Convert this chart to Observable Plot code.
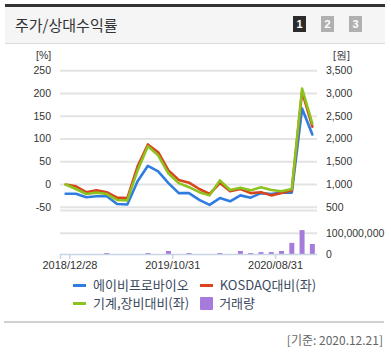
<!DOCTYPE html>
<html><head><meta charset="utf-8">
<script src="https://cdn.jsdelivr.net/npm/d3@7"></script>
<script src="https://cdn.jsdelivr.net/npm/@observablehq/plot@0.6"></script>
<style>
body{margin:0;background:#fff;font-family:"Noto Sans CJK KR","Noto Sans",sans-serif;}
#wrap{position:relative;width:391px;height:353px;overflow:hidden;background:#fff;}
#topbar{position:absolute;left:5px;top:4px;width:380px;height:2.5px;background:#333;}
#header{position:absolute;left:5px;top:6.5px;width:380px;height:36px;background:#f5f5f5;border-bottom:1px solid #dcdcdc;}
#title{position:absolute;left:10px;top:7px;font-size:15px;color:#333;line-height:22px;}
.btn{position:absolute;top:9px;width:13px;height:16px;font:bold 11px "Liberation Sans",sans-serif;line-height:16px;text-align:center;color:#fff;background:#b0b0b0;}
.btn.on{background:#2b2b2b;}
.unit{position:absolute;top:49px;font:10.5px "Liberation Sans",sans-serif;color:#333;}
#price,#vol{position:absolute;left:0;}
#price{top:50px;}
#vol{top:200px;}
#legend{position:absolute;left:73px;top:276px;font-size:13px;color:#3b4a5e;line-height:18px;}
.row{display:flex;align-items:center;height:18px;}
.item{display:flex;align-items:center;margin-right:11px;}
.dash{width:13px;height:3px;margin-right:7px;}
.sq{width:13px;height:13px;margin-right:6px;border-radius:1px;}
#footline{position:absolute;left:4px;top:321px;width:380px;height:2px;background:#d0d0d0;}
#basis{position:absolute;right:8px;top:331px;font-size:12px;color:#666;}
svg text{font-family:"Liberation Sans",sans-serif;}
</style></head><body>
<div id="wrap">
  <div id="topbar"></div>
  <div id="header">
    <div id="title">주가/상대수익률</div>
    <div class="btn on" style="left:288px">1</div>
    <div class="btn" style="left:316px">2</div>
    <div class="btn" style="left:344px">3</div>
  </div>
  <div class="unit" style="left:36px">[%]</div>
  <div class="unit" style="left:333px">[원]</div>
  <div id="price"></div>
  <div id="vol"></div>
  <div id="legend"></div>
  <div id="footline"></div>
  <div id="basis">[기준: 2020.12.21]</div>
</div>
<script>
const months = ["2018/12","2019/01","2019/02","2019/03","2019/04","2019/05","2019/06","2019/07","2019/08","2019/09","2019/10","2019/11","2019/12","2020/01","2020/02","2020/03","2020/04","2020/05","2020/06","2020/07","2020/08","2020/09","2020/10","2020/11","2020/12"];
const stockPrice = [795,795,720,740,740,570,560,1070,1410,1290,1030,810,810,660,550,700,630,760,710,810,790,820,820,2670,2100];
const kosdaqRel = [0,-4,-17,-13,-17,-29,-30,40,88,71,31,10,4,-10,-21,3,-15,-10,-19,-17,-24,-19,-13,204,127];
const machineRel = [0,-10,-21,-18,-21,-34,-35,31,84,64,24,3,-6,-17,-24,9,-12,-7,-13,-6,-12,-15,-10,211,134];
const volume = [0,0,0,0,4.7e6,0,0,0,4.7e6,0,14e6,0,4.7e6,0,0,4.7e6,0,14e6,4.7e6,9e6,9e6,14e6,52e6,112e6,47e6];

const pctTicks = [-50,0,50,100,150,200,250];
const pctTickLabels = ["-50","0","50","100","150","200","250"];
const wonTickLabels = ["500","1,000","1,500","2,000","2,500","3,000","3,500"];
const volTicks = [0,100e6];
const volTickLabels = ["0","100,000,000"];
const xTickMonths = ["2018/12","2019/10","2020/08"];
const xTickLabels = ["2018/12/28","2019/10/31","2020/08/31"];

const seriesNames = ["에이비프로바이오","KOSDAQ대비(좌)","기계,장비대비(좌)","거래량"];
const colors = {stock:"#2f7de1", kosdaq:"#d8441c", machine:"#8cc31f", vol:"#a67bdc"};

// price won <-> percent (right axis 500..3500 aligned with left -50..250)
const wonToPct = w => (w - 1000) / 10;

const rows = months.map((m,i)=>({i, m, price: stockPrice[i], kos: kosdaqRel[i], mac: machineRel[i], vol: volume[i]}));
const xIdx = m => months.indexOf(m);
const xTickIdx = xTickMonths.map(xIdx);

const W = 391, ML = 60, MR = 74;
const xScale = {type:"linear", domain:[-0.5, months.length-0.5], axis:null};

const price = Plot.plot({
  width: W, height: 162, marginLeft: ML, marginRight: MR, marginTop: 20.3, marginBottom: 5.3,
  x: xScale,
  y: {domain:[-50,250], axis:null},
  marks: [
    Plot.ruleY(pctTicks, {stroke:"#e3e3e3", strokeWidth:2}),
    Plot.axisY({anchor:"left", label:null, ticks:pctTicks, tickSize:0, tickPadding:9.5, fontSize:10.5, fill:"#333", tickFormat:(d)=>pctTickLabels[pctTicks.indexOf(d)]}),
    Plot.axisY({anchor:"right", label:null, ticks:pctTicks, tickSize:0, tickPadding:8.5, fontSize:10.5, fill:"#333", tickFormat:(d)=>wonTickLabels[pctTicks.indexOf(d)]}),
    Plot.line(rows, {x:"i", y:d=>wonToPct(d.price), stroke:colors.stock, strokeWidth:2.6}),
    Plot.line(rows, {x:"i", y:"kos", stroke:colors.kosdaq, strokeWidth:2.6}),
    Plot.line(rows, {x:"i", y:"mac", stroke:colors.machine, strokeWidth:2.6})
  ]
});
document.getElementById("price").appendChild(price);

const volMax = 206e6;
const vol = Plot.plot({
  width: W, height: 80, marginLeft: ML, marginRight: MR, marginTop: 10, marginBottom: 26,
  x: xScale,
  y: {domain:[0, volMax], axis:null},
  marks: [
    Plot.ruleY([volMax, volTicks[1]], {stroke:"#e3e3e3", strokeWidth:2}),
    Plot.ruleX(rows.filter(d=>d.vol>0), {x:"i", y1:0, y2:"vol", stroke:colors.vol, strokeWidth:5}),
    Plot.ruleY([0], {stroke:"#c8d5e4", strokeWidth:1.5}),
    Plot.axisY({anchor:"right", label:null, ticks:volTicks, tickSize:0, tickPadding:8.5, fontSize:10.5, fill:"#333", tickFormat:(d)=>volTickLabels[volTicks.indexOf(d)]}),
    Plot.axisX({label:null, ticks:xTickIdx, dx:4.3, tickSize:5, tickPadding:2, fontSize:11, stroke:"#c8d5e4", fill:"#333", strokeWidth:1.5, tickFormat:(d)=>xTickLabels[xTickIdx.indexOf(d)]}),
    Plot.axisX({label:null, ticks:[-0.5], tickSize:5, stroke:"#c8d5e4", strokeWidth:1.5, tickFormat:()=>""})
  ]
});
document.getElementById("vol").appendChild(vol);

// legend
const legend = document.getElementById("legend");
const items = [
  [[seriesNames[0], colors.stock, "dash"], [seriesNames[1], colors.kosdaq, "dash"]],
  [[seriesNames[2], colors.machine, "dash"], [seriesNames[3], colors.vol, "sq"]]
];
items.forEach(r=>{
  const row = document.createElement("div"); row.className="row";
  r.forEach(([name,c,kind])=>{
    const it = document.createElement("div"); it.className="item";
    const mk = document.createElement("span"); mk.className=kind; mk.style.background=c;
    const tx = document.createElement("span"); tx.textContent=name;
    it.appendChild(mk); it.appendChild(tx); row.appendChild(it);
  });
  legend.appendChild(row);
});
</script>
</body></html>
